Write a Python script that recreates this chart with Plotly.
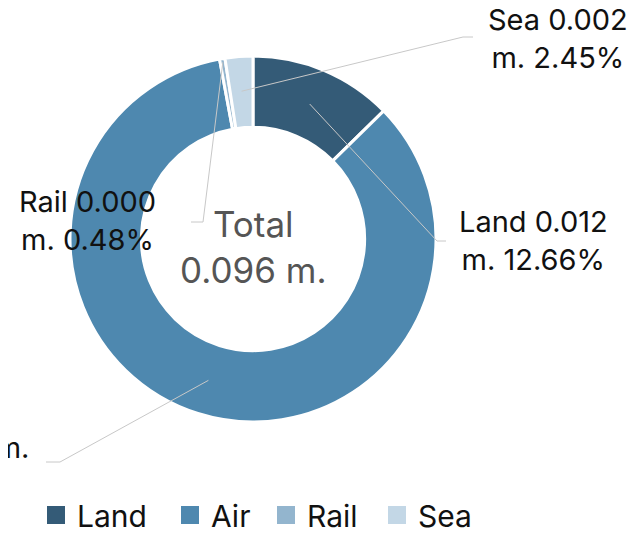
import math
import plotly.graph_objects as go

# ---- data ----
categories = ["Land", "Air", "Rail", "Sea"]
values_m = [0.012, 0.081, 0.000, 0.002]
percents = [12.66, 84.41, 0.48, 2.45]
total_m = 0.096
colors = ["#345B77", "#4E88AF", "#93B5CE", "#C3D7E6"]

W, H = 641, 533
FONT = "Inter"
OFF = 8          # page offset of the plot div

def px(x, y):
    return (x - OFF) / W, 1 - (y - OFF) / H

# pie geometry (target screen pixels)
cx, cy, R = 253, 239, 183
x0, y0 = px(cx - R, cy + R)
x1, y1 = px(cx + R, cy - R)

fig = go.Figure(go.Pie(
    labels=categories, values=percents, sort=False, direction="clockwise",
    rotation=0, hole=0.61, textinfo="none", hoverinfo="label+percent",
    marker=dict(colors=colors, line=dict(color="white", width=3)),
    domain=dict(x=[x0, x1], y=[y0, y1]), showlegend=False,
))

# leader lines + labels
start_r = {"Land": 0.80, "Air": 0.81, "Rail": 0.98, "Sea": 0.81}
elbow = {"Land": (437, 241), "Air": (60, 462), "Rail": (203, 222), "Sea": (463, 37)}
end = {"Land": (446, 241), "Air": (46, 462), "Rail": (191, 222), "Sea": (473, 37)}
label_pos = {"Land": (533, 240, "center"), "Air": (31, 466, "right"),
             "Rail": (87, 220, "center"), "Sea": (558, 39, "center")}

shapes, annots = [], []
cum = 0.0
tot = sum(percents)
for cat, v, p in zip(categories, values_m, percents):
    mid = (cum + p / 2) / tot * 2 * math.pi
    cum += p
    r = start_r[cat] * R
    sx, sy = cx + r * math.sin(mid), cy - r * math.cos(mid)
    ex, ey = elbow[cat]
    fx, fy = end[cat]
    a, b = px(sx, sy); c, d = px(ex, ey); e, f = px(fx, fy)
    shapes.append(dict(type="path", xref="paper", yref="paper",
                       path=f"M {a},{b} L {c},{d} L {e},{f}",
                       line=dict(color="#C8C8C8", width=1)))
    if cat == "Air":
        text = f"{cat} {v:.3f} m.<br>{p:.2f}%"
    else:
        text = f"{cat} {v:.3f}<br>m. {p:.2f}%"
    lx, ly, anc = label_pos[cat]
    ax_, ay_ = px(lx, ly)
    annots.append(dict(x=ax_, y=ay_, xref="paper", yref="paper", text=text,
                       showarrow=False, xanchor=anc, yanchor="middle", align="center",
                       font=dict(family=FONT, size=29, color="#111111")))

tx, ty = px(cx, 247)
annots.append(dict(x=tx, y=ty, xref="paper", yref="paper",
                   text=f"Total<br>{total_m:.3f} m.", showarrow=False,
                   xanchor="center", yanchor="middle", align="center",
                   font=dict(family=FONT, size=35, color="#555555")))

# legend (drawn from categories / colors)
legend_x = [47, 181, 277, 388]
legend_y = 515
sq = 18
for cat, col, lxp in zip(categories, colors, legend_x):
    a, b = px(lxp, legend_y + sq / 2)
    c, d = px(lxp + sq, legend_y - sq / 2)
    shapes.append(dict(type="rect", xref="paper", yref="paper", x0=a, y0=b, x1=c, y1=d,
                       fillcolor=col, line=dict(width=0)))
    tx_, ty_ = px(lxp + sq + 10, legend_y + 1)
    annots.append(dict(x=tx_, y=ty_, xref="paper", yref="paper", text=cat,
                       showarrow=False, xanchor="left", yanchor="middle",
                       font=dict(family=FONT, size=30, color="#111111")))

fig.update_layout(
    width=W, height=H, margin=dict(l=0, r=0, t=0, b=0),
    paper_bgcolor="white", plot_bgcolor="white",
    shapes=shapes, annotations=annots, showlegend=False,
)

fig.write_html("out.html")
